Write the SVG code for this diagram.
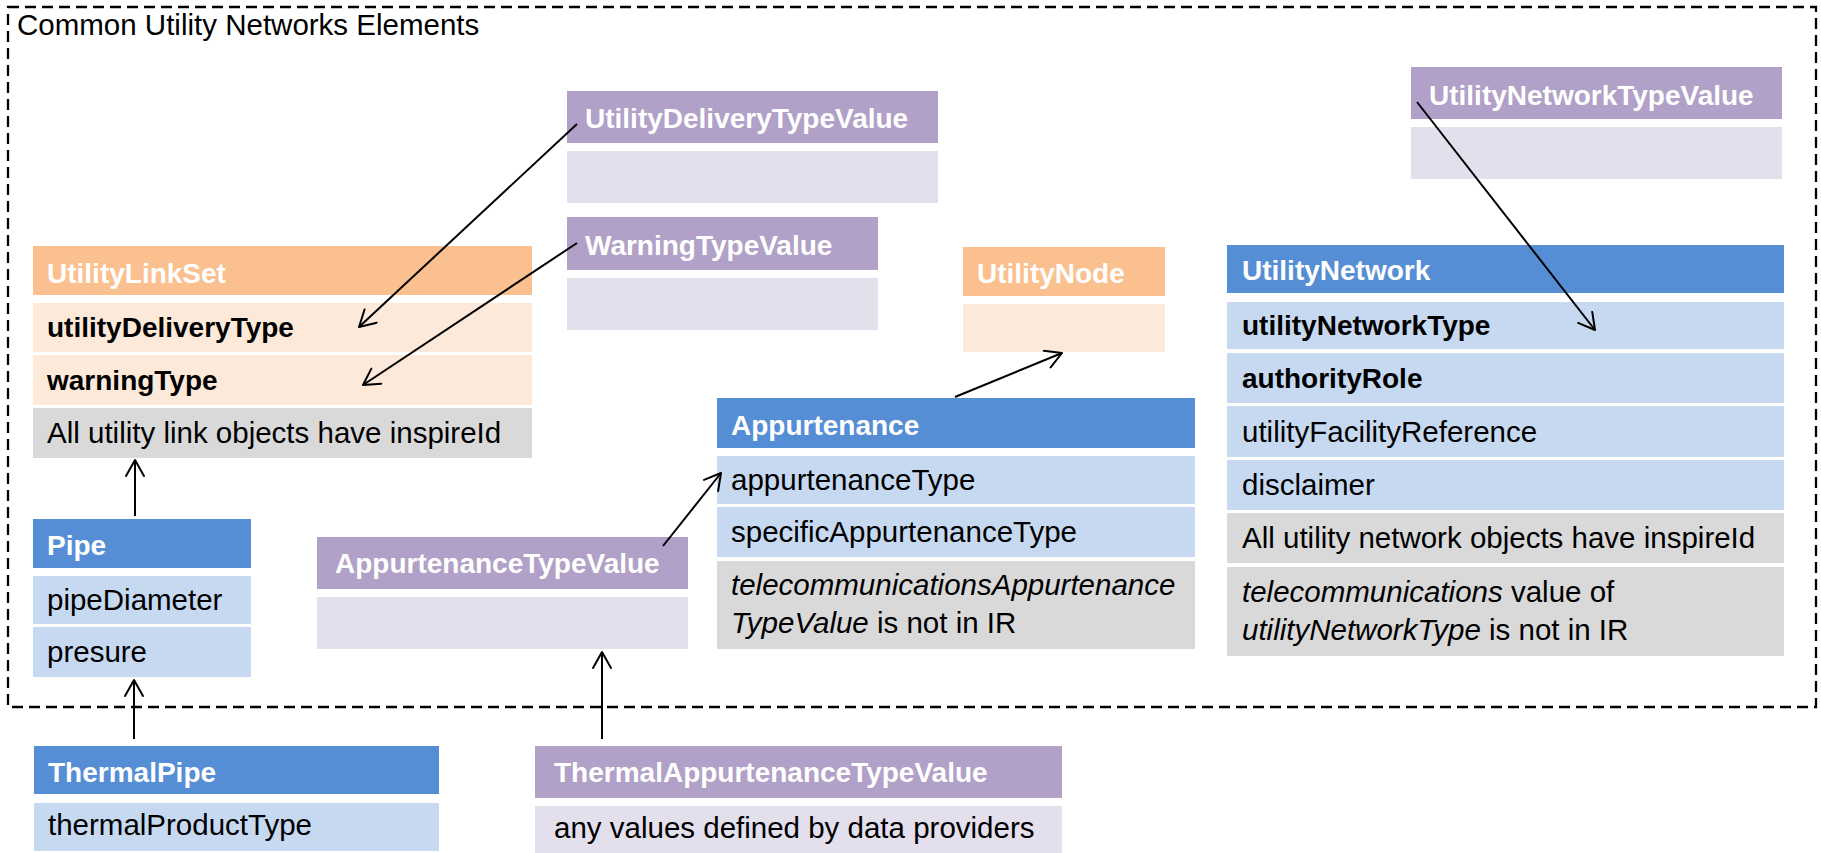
<svg xmlns="http://www.w3.org/2000/svg" width="1821" height="853" viewBox="0 0 1821 853">
<defs>
<style>
.hb{fill:#558ED5}.rb{fill:#C6D9F1}.hp{fill:#B1A0C7}.rp{fill:#E4DFEC}.ho{fill:#FAC090}.ro{fill:#FDE9D9}.g{fill:#D9D9D9}
text{font-family:"Liberation Sans",Arial,sans-serif;font-size:29.5px;fill:#000}
.ht{font-weight:bold;font-size:28px;fill:#fff}
.b{font-weight:bold;font-size:28px}
.i{font-style:italic}
#connectors line{stroke:#000;stroke-width:2;marker-end:url(#arr)}
</style>
<marker id="arr" viewBox="0 0 20 20" refX="18" refY="10" markerWidth="20" markerHeight="20" markerUnits="userSpaceOnUse" orient="auto">
<path d="M2,1 L18,10 L2,19" fill="none" stroke="#000" stroke-width="2" stroke-linecap="round" stroke-linejoin="round"/>
</marker>
</defs>
<rect width="1821" height="853" fill="#fff"/>
<g id="frame">
<rect x="8" y="7" width="1808" height="700" fill="none" stroke="#000" stroke-width="2.3" stroke-dasharray="11,6"/>
<text x="17" y="35">Common Utility Networks Elements</text>
</g>
<g id="UtilityDeliveryTypeValue">
<rect class="hp" x="567" y="91" width="371" height="52"/>
<rect class="rp" x="567" y="151" width="371" height="52"/>
<text class="ht" x="585" y="128">UtilityDeliveryTypeValue</text>
</g>
<g id="WarningTypeValue">
<rect class="hp" x="567" y="217" width="311" height="53"/>
<rect class="rp" x="567" y="278" width="311" height="52"/>
<text class="ht" x="585" y="255">WarningTypeValue</text>
</g>
<g id="UtilityNetworkTypeValue">
<rect class="hp" x="1411" y="67" width="371" height="52"/>
<rect class="rp" x="1411" y="127" width="371" height="52"/>
<text class="ht" x="1429" y="105">UtilityNetworkTypeValue</text>
</g>
<g id="UtilityLinkSet">
<rect class="ho" x="33" y="246" width="499" height="49"/>
<rect class="ro" x="33" y="303" width="499" height="49"/>
<rect class="ro" x="33" y="355" width="499" height="50"/>
<rect class="g" x="33" y="408" width="499" height="50"/>
<text class="ht" x="47" y="283">UtilityLinkSet</text>
<text class="b" x="47" y="337">utilityDeliveryType</text>
<text class="b" x="47" y="390">warningType</text>
<text x="47" y="443">All utility link objects have inspireId</text>
</g>
<g id="UtilityNode">
<rect class="ho" x="963" y="247" width="202" height="49"/>
<rect class="ro" x="963" y="304" width="202" height="48"/>
<text class="ht" x="977" y="283">UtilityNode</text>
</g>
<g id="UtilityNetwork">
<rect class="hb" x="1227" y="245" width="557" height="48"/>
<rect class="rb" x="1227" y="302" width="557" height="47"/>
<rect class="rb" x="1227" y="353" width="557" height="50"/>
<rect class="rb" x="1227" y="406" width="557" height="51"/>
<rect class="rb" x="1227" y="460" width="557" height="50"/>
<rect class="g" x="1227" y="513" width="557" height="50"/>
<rect class="g" x="1227" y="567" width="557" height="89"/>
<text class="ht" x="1242" y="280">UtilityNetwork</text>
<text class="b" x="1242" y="335">utilityNetworkType</text>
<text class="b" x="1242" y="388">authorityRole</text>
<text x="1242" y="442">utilityFacilityReference</text>
<text x="1242" y="495">disclaimer</text>
<text x="1242" y="548">All utility network objects have inspireId</text>
<text x="1242" y="602"><tspan class="i">telecommunications</tspan> value of</text>
<text x="1242" y="640"><tspan class="i">utilityNetworkType</tspan> is not in IR</text>
</g>
<g id="Appurtenance">
<rect class="hb" x="717" y="398" width="478" height="50"/>
<rect class="rb" x="717" y="456" width="478" height="48"/>
<rect class="rb" x="717" y="507" width="478" height="50"/>
<rect class="g" x="717" y="561" width="478" height="88"/>
<text class="ht" x="731" y="435">Appurtenance</text>
<text x="731" y="490">appurtenanceType</text>
<text x="731" y="542">specificAppurtenanceType</text>
<text x="731" y="595" class="i">telecommunicationsAppurtenance</text>
<text x="731" y="633"><tspan class="i">TypeValue</tspan> is not in IR</text>
</g>
<g id="Pipe">
<rect class="hb" x="33" y="519" width="218" height="49"/>
<rect class="rb" x="33" y="576" width="218" height="48"/>
<rect class="rb" x="33" y="627" width="218" height="50"/>
<text class="ht" x="47" y="555">Pipe</text>
<text x="47" y="610">pipeDiameter</text>
<text x="47" y="662">presure</text>
</g>
<g id="AppurtenanceTypeValue">
<rect class="hp" x="317" y="537" width="371" height="52"/>
<rect class="rp" x="317" y="597" width="371" height="52"/>
<text class="ht" x="335" y="573">AppurtenanceTypeValue</text>
</g>
<g id="ThermalPipe">
<rect class="hb" x="34" y="746" width="405" height="48"/>
<rect class="rb" x="34" y="803" width="405" height="48"/>
<text class="ht" x="48" y="782">ThermalPipe</text>
<text x="48" y="835">thermalProductType</text>
</g>
<g id="ThermalAppurtenanceTypeValue">
<rect class="hp" x="535" y="746" width="527" height="52"/>
<rect class="rp" x="535" y="806" width="527" height="47"/>
<text class="ht" x="554" y="782">ThermalAppurtenanceTypeValue</text>
<text x="554" y="838">any values defined by data providers</text>
</g>
<g id="connectors">
<line x1="577" y1="124" x2="359" y2="327"/>
<line x1="577" y1="243" x2="363" y2="385"/>
<line x1="1417" y1="102" x2="1595" y2="330"/>
<line x1="955" y1="397" x2="1062" y2="353"/>
<line x1="663" y1="546" x2="721" y2="473"/>
<line x1="135" y1="516" x2="135" y2="460"/>
<line x1="134" y1="739" x2="134" y2="680"/>
<line x1="602" y1="739" x2="602" y2="652"/>
</g>
</svg>
